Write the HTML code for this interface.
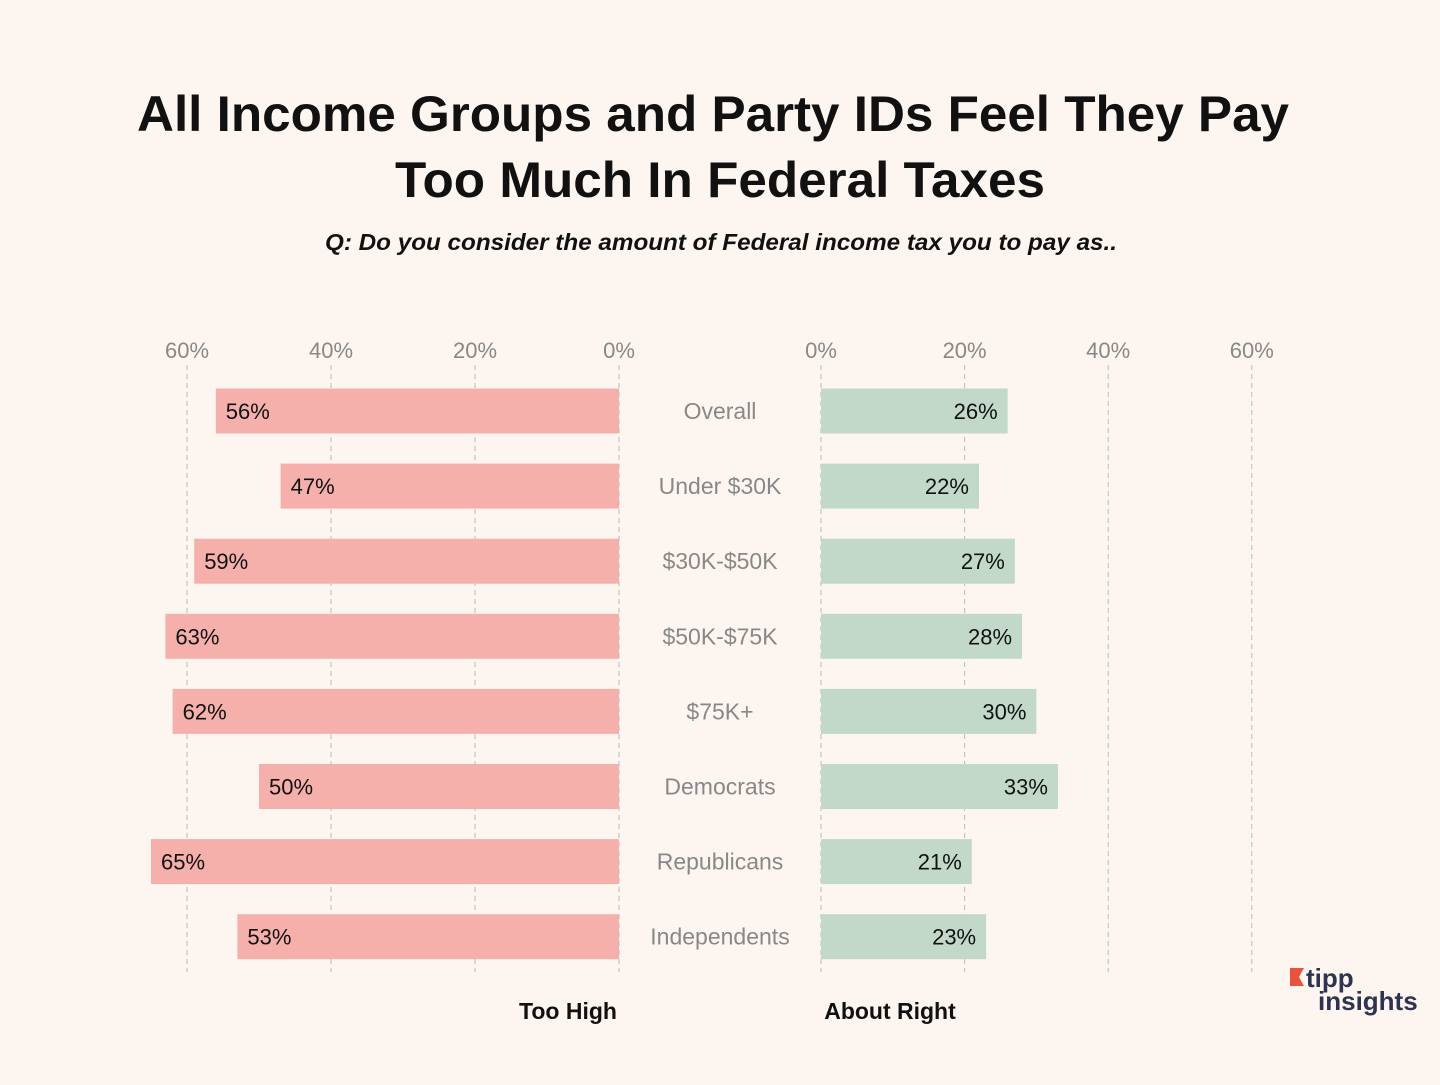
<!DOCTYPE html>
<html><head><meta charset="utf-8"><style>
body{margin:0;background:#fdf6f0;width:1440px;height:1080px;overflow:hidden;font-family:"Liberation Sans",sans-serif}
</style></head><body>
<svg width="1440" height="1080" xmlns="http://www.w3.org/2000/svg">
<rect width="1440" height="1080" fill="#fdf6f0"/>
<text x="137" y="131" textLength="1152" lengthAdjust="spacingAndGlyphs" font-size="50" font-weight="bold" fill="#111">All Income Groups and Party IDs Feel They Pay</text>
<text x="395" y="197" textLength="650" lengthAdjust="spacingAndGlyphs" font-size="50" font-weight="bold" fill="#111">Too Much In Federal Taxes</text>
<text x="325" y="250" textLength="792" lengthAdjust="spacingAndGlyphs" font-size="23" font-weight="bold" font-style="italic" fill="#111">Q: Do you consider the amount of Federal income tax you to pay as..</text>
<g id="g"></g>
<text x="568" y="1019" text-anchor="middle" font-size="23" font-weight="bold" fill="#111">Too High</text>
<text x="890" y="1019" text-anchor="middle" font-size="23" font-weight="bold" fill="#111">About Right</text>
<g>
<polygon points="1290,968 1304,968 1299,977 1304,986 1290,986" fill="#e8533f"/>
<text x="1306" y="987" font-size="26" font-weight="bold" fill="#2d3350">tipp</text>
<text x="1318" y="1010" font-size="26" font-weight="bold" fill="#2d3350">insights</text>
</g>
</svg>
<script>
const categories=["Overall","Under $30K","$30K-$50K","$50K-$75K","$75K+","Democrats","Republicans","Independents"];
const tooHigh=[56,47,59,63,62,50,65,53];
const aboutRight=[26,22,27,28,30,33,21,23];
const ticks=[0,20,40,60];
const NS="http://www.w3.org/2000/svg";
const g=document.getElementById('g');
const xl=v=>619-v*7.2, xr=v=>821+v*7.18, yc=i=>411+i*75.1;
function mk(t,a,txt){const e=document.createElementNS(NS,t);for(const k in a)e.setAttribute(k,a[k]);if(txt!==undefined)e.textContent=txt;g.appendChild(e);return e;}
ticks.forEach(t=>{
 let l=mk('line',{x1:xl(t),x2:xl(t),y1:365,y2:972,stroke:'#bbb','stroke-dasharray':'5,4'});
 
 
 let r=mk('line',{x1:xr(t),x2:xr(t),y1:365,y2:972,stroke:'#bbb','stroke-dasharray':'5,4'});
 
 
 let a=mk('text',{x:xl(t),y:358,'text-anchor':'middle','font-size':22,fill:'#888'},t+'%');
 
 
 let b=mk('text',{x:xr(t),y:358,'text-anchor':'middle','font-size':22,fill:'#888'},t+'%');
 
 
});
categories.forEach((c,i)=>{
 const y=yc(i);
 let b1=mk('rect',{x:xl(tooHigh[i]),y:y-22.5,width:619-xl(tooHigh[i]),height:45,fill:'#f6b0ac'});
 
 
 let t1=mk('text',{x:xl(tooHigh[i])+10,y:y+8,'font-size':22,fill:'#111'},tooHigh[i]+'%');
 
 
 let b2=mk('rect',{x:821,y:y-22.5,width:xr(aboutRight[i])-821,height:45,fill:'#c2d9c9'});
 
 
 let t2=mk('text',{x:xr(aboutRight[i])-10,y:y+8,'text-anchor':'end','font-size':22,fill:'#111'},aboutRight[i]+'%');
 
 
 let cl=mk('text',{x:720,y:y+8,'text-anchor':'middle','font-size':23,fill:'#888'},c);
 
 
});
</script>
</body></html>
